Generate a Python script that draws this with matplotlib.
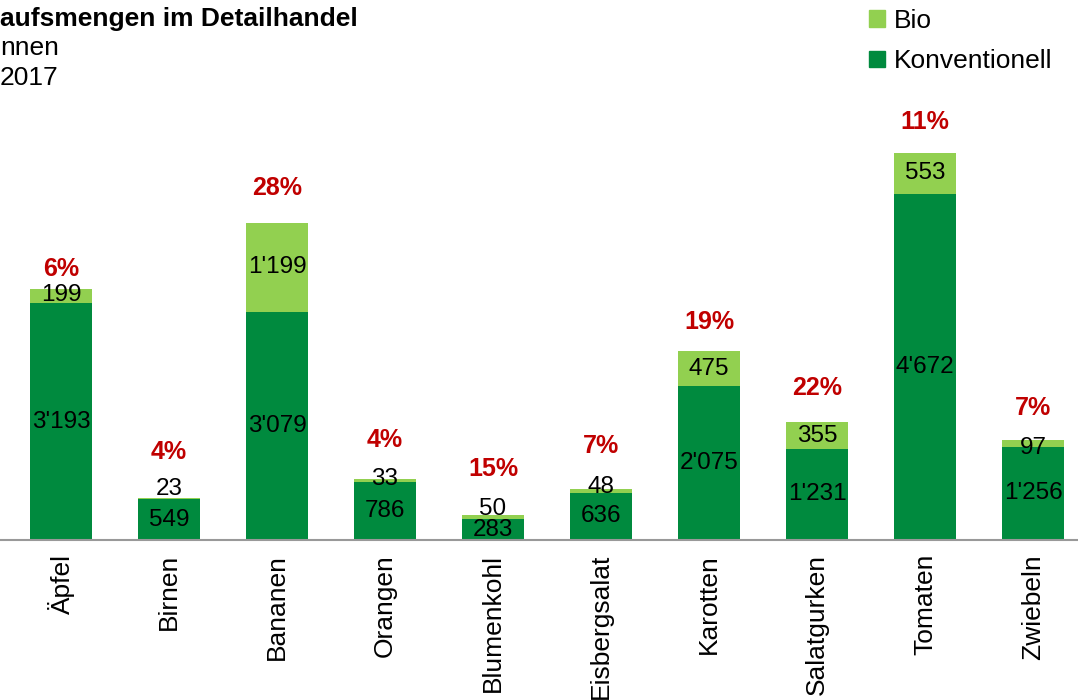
import numpy as np
import matplotlib.pyplot as plt
from matplotlib.patches import Patch

plt.rcParams['font.family'] = ['Liberation Sans', 'DejaVu Sans']

# Verkaufsmengen in Tonnen, 2017
kategorien = ["Äpfel", "Birnen", "Bananen", "Orangen", "Blumenkohl",
              "Eisbergsalat", "Karotten", "Salatgurken", "Tomaten", "Zwiebeln"]
konventionell = np.array([3193, 549, 3079, 786, 283, 636, 2075, 1231, 4672, 1256])
bio = np.array([199, 23, 1199, 33, 50, 48, 475, 355, 553, 97])

# Abstand der Prozent-Labels über dem Balken (Punkte)
pct_offset = [14, 33, 25, 28, 33, 31, 21, 25, 22, 23]
# Verschiebung der Bio-Labels nach oben (Punkte), bei kleinen Segmenten
bio_offset = [1, 7, 0, 1, 6, 3, 0, 0, 0, -3]

gruen_dunkel = "#008A3E"
gruen_hell = "#92D050"
rot = "#C00000"


def fmt(v):
    return f"{v:,}".replace(",", "'")


fig = plt.figure(figsize=(10.78, 7), dpi=100)
ax = fig.add_axes([0, 160 / 700, 1, 440 / 700])

x = np.arange(len(kategorien))
ax.bar(x, konventionell, width=0.57, color=gruen_dunkel)
ax.bar(x, bio, width=0.57, bottom=konventionell, color=gruen_hell)

for i in range(len(x)):
    k, b = konventionell[i], bio[i]
    ax.text(x[i], k / 2, fmt(k), ha="center", va="center", fontsize=17.5)
    ax.annotate(fmt(b), (x[i], k + b / 2), xytext=(0, bio_offset[i]),
                textcoords="offset points", ha="center", va="center", fontsize=17.5)
    pct = round(100 * b / (k + b))
    ax.annotate(f"{pct}%", (x[i], k + b), xytext=(0, pct_offset[i]),
                textcoords="offset points", ha="center", va="center",
                fontsize=18, fontweight="bold", color=rot)

ax.set_xlim(-61 / 108, -61 / 108 + 1078 / 108)
ax.set_ylim(0, 440 / 0.0741)
ax.set_xticks(x)
ax.set_xticklabels(kategorien, rotation=90, fontsize=19)
ax.tick_params(axis="x", length=0, pad=10)
ax.set_yticks([])
for s in ["top", "right", "left"]:
    ax.spines[s].set_visible(False)
ax.spines["bottom"].set_color("#999999")
ax.spines["bottom"].set_linewidth(1.5)

fig.text(0, 1 - 19 / 700, "aufsmengen im Detailhandel", fontsize=19,
         fontweight="bold", va="center", ha="left")
fig.text(0, 1 - 48 / 700, "nnen", fontsize=19, va="center", ha="left")
fig.text(0, 1 - 78 / 700, "2017", fontsize=19, va="center", ha="left")

handles = [Patch(color=gruen_hell, label="Bio"),
           Patch(color=gruen_dunkel, label="Konventionell")]
fig.legend(handles=handles, loc="upper left", bbox_to_anchor=(845 / 1078, 1 + 15 / 700),
           frameon=False, fontsize=19, handlelength=0.6, handleheight=0.6,
           handletextpad=0.35, labelspacing=0.63)

fig.savefig("out.png", dpi=100)
